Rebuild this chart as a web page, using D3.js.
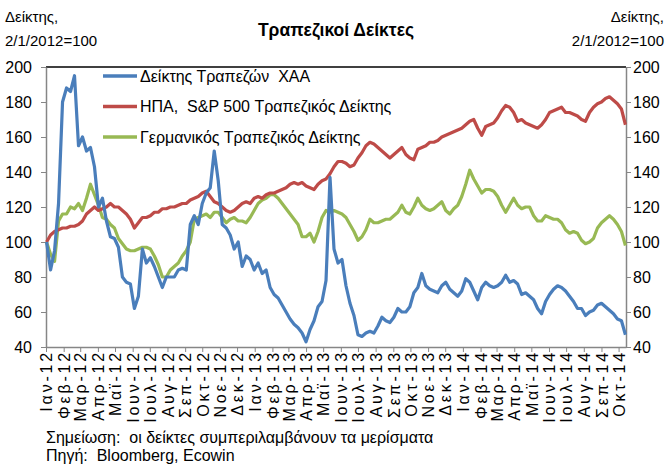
<!DOCTYPE html>
<html>
<head>
<meta charset="utf-8">
<script src="https://cdn.jsdelivr.net/npm/d3@7"></script>
<style>
  body { margin: 0; background: #fff; }
  svg { font-family: "Liberation Sans", Arial, sans-serif; }
  text { white-space: pre; }
  .axis path, .axis line { stroke: #868686; }
  .axis text { fill: #000; }
</style>
</head>
<body>
<div id="chart"></div>
<script>
// size of the picture
var svgWidth = 669;
var svgHeight = 464;

var margin = { top: 67, right: 43, bottom: 117, left: 46 };
var chartWidth = svgWidth - margin.left - margin.right;
var chartHeight = svgHeight - margin.top - margin.bottom;

// weekly closes, first week 2/1/2012
var startDate = new Date(2012, 0, 2);
var endDate = new Date(2014, 9, 14);

var greekBanks = [100, 84, 95, 122, 180, 188, 186, 195, 155, 160, 152, 154, 143, 120, 125, 112, 103, 102, 97, 80,
  77, 76, 62, 69, 96, 88, 91, 86, 80, 74, 80, 80, 80, 84, 85, 84, 110, 115, 110, 122,
  128, 131, 152, 135, 110, 108, 104, 96, 100, 86, 92, 90, 84, 88, 82, 84, 74, 70, 68, 64,
  60, 56, 53, 51, 48, 43, 50, 55, 63, 66, 78, 137, 96, 88, 90, 75, 65, 58, 47, 46,
  48, 49, 48, 52, 57, 55, 54, 57, 62, 60, 60, 63, 71, 74, 82, 75, 73, 72, 71, 75,
  77, 73, 71, 69, 72, 79, 77, 72, 67, 74, 77, 75, 74, 75, 77, 81, 77, 78, 76, 70,
  71, 69, 67, 62, 59, 66, 70, 73, 75, 74, 72, 69, 66, 62, 62, 58, 60, 61, 64, 65,
  63, 61, 59, 56, 55, 47];

var usBanks = [100, 104, 106, 107, 108, 108, 109, 109, 110, 112, 116, 118, 120, 118, 119, 120, 122, 120, 120, 118,
  116, 113, 108, 111, 114, 114, 115, 117, 117, 119, 119, 120, 120, 121, 122, 122, 124, 125, 126, 128,
  129, 126, 123, 122, 120, 118, 117, 118, 120, 122, 123, 122, 125, 126, 125, 127, 128, 128, 129, 130,
  131, 133, 134, 133, 134, 132, 131, 130, 133, 135, 136, 139, 143, 146, 146, 145, 143, 144, 148, 151,
  155, 157, 156, 154, 152, 150, 148, 150, 152, 154, 150, 148, 147, 153, 154, 155, 157, 157, 158, 160,
  161, 162, 163, 164, 165, 167, 169, 170, 165, 161, 166, 167, 168, 171, 175, 178, 177, 174, 169, 170,
  168, 167, 166, 165, 167, 170, 174, 175, 176, 177, 174, 174, 173, 172, 170, 169, 174, 177, 179, 180,
  182, 183, 181, 179, 176, 167];

var germanBanks = [100, 93, 89, 112, 116, 116, 120, 119, 122, 118, 125, 133, 127, 121, 114, 113, 110, 108, 102, 99,
  96, 95, 95, 96, 97, 97, 96, 92, 87, 80, 80, 84, 86, 88, 92, 95, 100, 113, 114, 115,
  116, 114, 117, 117, 114, 111, 113, 114, 112, 112, 111, 114, 118, 122, 124, 125, 127, 127, 125, 122,
  119, 116, 113, 110, 103, 103, 105, 100, 106, 114, 118, 117, 118, 117, 116, 114, 110, 106, 101, 103,
  107, 113, 111, 111, 112, 113, 113, 115, 117, 121, 117, 116, 120, 125, 121, 119, 118, 119, 121, 123,
  118, 116, 119, 121, 126, 133, 141, 136, 132, 128, 130, 130, 129, 126, 121, 117, 121, 125, 121, 119,
  120, 120, 115, 112, 112, 115, 114, 113, 113, 111, 107, 105, 106, 105, 101, 99, 100, 102, 108, 111,
  113, 115, 113, 110, 106, 98];

var seriesNames = ["Δείκτης Τραπεζών  ΧΑΑ", "ΗΠΑ,  S&P 500 Τραπεζικός Δείκτης", "Γερμανικός Τραπεζικός Δείκτης"];
var seriesColors = ["#4A7EBB", "#BE4B48", "#98B954"];

var monthNames = ["Ιαν", "Φεβ", "Μαρ", "Απρ", "Μαϊ", "Ιουν", "Ιουλ", "Αυγ", "Σεπ", "Οκτ", "Νοε", "Δεκ"];
var yTicks = [40, 60, 80, 100, 120, 140, 160, 180, 200];

var titleText = "Τραπεζικοί Δείκτες";
var axisTitle = ["Δείκτης,", "2/1/2012=100"];
var notes = ["Σημείωση:  οι δείκτες συμπεριλαμβάνουν τα μερίσματα", "Πηγή:  Bloomberg, Ecowin"];

var svg = d3.select("#chart")
  .append("svg")
  .attr("width", svgWidth)
  .attr("height", svgHeight);

var chartGroup = svg.append("g")
  .attr("transform", `translate(${margin.left}, ${margin.top})`);

// scales
var xScale = d3.scaleTime()
  .domain([new Date(2012, 0, 1), endDate])
  .range([0, chartWidth]);

var yScale = d3.scaleLinear()
  .domain([40, 200])
  .range([chartHeight, 0]);

var dates = greekBanks.map((d, i) => d3.timeDay.offset(startDate, 7 * i));
var monthTicks = d3.timeMonth.range(new Date(2012, 0, 1), new Date(2014, 10, 1));

// plot frame top
chartGroup.append("line")
  .attr("x1", 0).attr("x2", chartWidth)
  .attr("y1", 0).attr("y2", 0)
  .attr("stroke", "#000")
  .attr("stroke-width", 1.3);

// axes
var bottomAxis = d3.axisBottom(xScale)
  .tickValues(monthTicks)
  .tickSizeInner(5).tickSizeOuter(0)
  .tickFormat(d => monthNames[d.getMonth()] + "-" + String(d.getFullYear()).slice(2));

var xAxis = chartGroup.append("g")
  .classed("axis", true)
  .attr("transform", `translate(0, ${chartHeight})`)
  .call(bottomAxis);

xAxis.selectAll("text")
  .attr("transform", "rotate(-90)")
  .attr("text-anchor", "end")
  .attr("x", -3)
  .attr("y", 0)
  .attr("dy", "0.36em")
  .style("font-size", "16px")
  .style("letter-spacing", "2.8px");

var leftAxis = d3.axisLeft(yScale).tickValues(yTicks).tickSizeInner(5).tickSizeOuter(0).tickPadding(9);
var rightAxis = d3.axisRight(yScale).tickValues(yTicks).tickSizeInner(5).tickSizeOuter(0).tickPadding(2);

chartGroup.append("g")
  .classed("axis", true)
  .call(leftAxis)
  .selectAll("text").style("font-size", "16px");

chartGroup.append("g")
  .classed("axis", true)
  .attr("transform", `translate(${chartWidth}, 0)`)
  .call(rightAxis)
  .selectAll("text").style("font-size", "16px");

chartGroup.selectAll(".axis path").attr("stroke-width", 1.5);

// lines
var allSeries = [greekBanks, usBanks, germanBanks];
var line = d3.line()
  .x((d, i) => xScale(dates[i]))
  .y(d => yScale(d));

// draw green, red, then blue on top
[2, 1, 0].forEach(k => {
  chartGroup.append("path")
    .datum(allSeries[k])
    .attr("fill", "none")
    .attr("stroke", seriesColors[k])
    .attr("stroke-width", 3.2)
    .attr("stroke-linejoin", "round")
    .attr("d", line);
});

// legend
var legend = svg.append("g").attr("transform", "translate(103, 76)");
seriesNames.forEach((name, i) => {
  var row = legend.append("g").attr("transform", `translate(0, ${i * 30.5})`);
  row.append("line")
    .attr("x1", 0).attr("x2", 34)
    .attr("stroke", seriesColors[i])
    .attr("stroke-width", 3.5);
  row.append("text")
    .attr("x", 37)
    .attr("dy", "0.36em")
    .style("font-size", "16px")
    .text(name);
});

// titles
svg.append("text")
  .attr("x", 336).attr("y", 36)
  .attr("text-anchor", "middle")
  .style("font-size", "17.5px")
  .style("font-weight", "bold")
  .text(titleText);

axisTitle.forEach((t, i) => {
  svg.append("text")
    .attr("x", 5).attr("y", 22 + i * 24)
    .style("font-size", "15px")
    .text(t);
  svg.append("text")
    .attr("x", 664).attr("y", 22 + i * 24)
    .attr("text-anchor", "end")
    .style("font-size", "15px")
    .text(t);
});

notes.forEach((t, i) => {
  svg.append("text")
    .attr("x", 46).attr("y", 443 + i * 18)
    .style("font-size", "16px")
    .text(t);
});
</script>
</body>
</html>
